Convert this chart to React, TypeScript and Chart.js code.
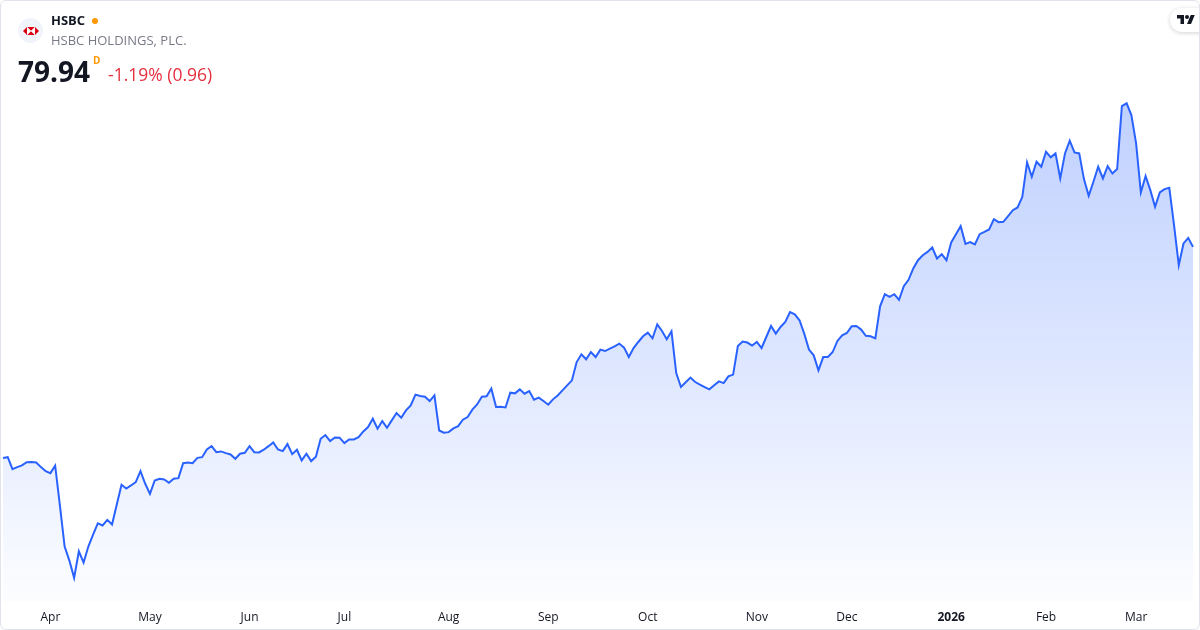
import React, { useEffect, useRef } from 'react';
import { Chart, registerables } from 'chart.js';

Chart.register(...registerables);

// Daily closes, HSBC ADR (18 Mar 2025 – 18 Mar 2026)
const prices = [
  57.47, 57.57, 56.29, 56.51, 56.69, 57.04, 57.05, 57.01, 56.51, 56.08,
  55.87, 56.66, 52.43, 48.06, 46.57, 44.73, 47.56, 46.36, 48.06, 49.34,
  50.54, 50.30, 50.90, 50.40, 52.53, 54.63, 54.24, 54.56, 54.91, 56.08,
  54.74, 53.67, 55.09, 55.27, 55.20, 54.85, 55.27, 55.34, 56.93, 57.01,
  56.93, 57.50, 57.57, 58.39, 58.74, 58.10, 58.18, 58.00, 57.86, 57.40,
  57.93, 58.04, 58.74, 58.10, 58.07, 58.36, 58.74, 59.14, 58.39, 58.21,
  58.96, 57.89, 58.36, 57.22, 57.93, 57.15, 57.61, 59.53, 59.92, 59.28,
  59.67, 59.64, 59.06, 59.46, 59.46, 59.70, 60.31, 60.77, 61.66, 60.60,
  61.41, 60.70, 61.48, 62.26, 61.77, 62.54, 63.08, 64.22, 64.07, 64.00,
  63.54, 64.14, 60.41, 60.17, 60.23, 60.63, 60.87, 61.55, 61.83, 62.62,
  63.18, 64.00, 64.04, 64.86, 62.90, 62.94, 62.86, 64.43, 64.36, 64.78,
  64.32, 64.60, 63.68, 63.90, 63.54, 63.15, 63.72, 64.14, 64.67, 65.21,
  65.74, 67.69, 68.51, 67.98, 68.75, 68.22, 69.01, 68.86, 69.12, 69.36,
  69.65, 69.22, 68.22, 69.18, 69.82, 70.43, 70.82, 70.21, 71.70, 70.99,
  70.11, 70.96, 66.52, 65.03, 65.53, 66.03, 65.56, 65.28, 65.03, 64.78,
  65.21, 65.63, 65.45, 66.17, 66.35, 69.39, 69.86, 69.76, 69.44, 69.82,
  69.18, 70.35, 71.52, 70.71, 71.42, 71.95, 73.01, 72.77, 72.13, 70.71,
  69.01, 68.40, 66.80, 68.22, 68.22, 68.75, 69.93, 70.53, 70.78, 71.49,
  71.52, 71.14, 70.48, 70.43, 70.21, 73.62, 74.90, 74.61, 74.90, 74.31,
  75.75, 76.44, 77.64, 78.52, 79.05, 79.40, 79.87, 78.70, 79.16, 78.52,
  80.41, 81.29, 82.14, 80.26, 80.44, 80.19, 81.29, 81.53, 81.79, 82.89,
  82.57, 82.60, 83.21, 83.84, 84.13, 85.26, 88.93, 87.39, 88.99, 88.46,
  90.05, 89.46, 89.88, 87.22, 89.88, 91.23, 89.99, 89.88, 87.15, 85.37,
  86.86, 88.46, 87.22, 88.53, 87.75, 88.21, 94.92, 95.21, 93.96, 90.95,
  85.73, 87.47, 85.97, 84.20, 85.73, 86.08, 86.22, 82.25, 77.99, 80.30,
  80.89, 79.94,
];

// Trading-day categories (one per close)
const sessions = prices.map((_, i) => `d${i}`);

// Month tick labels and the session index on which each month starts
const monthLabels = ['Apr', 'May', 'Jun', 'Jul', 'Aug', 'Sep', 'Oct', 'Nov', 'Dec', '2026', 'Feb', 'Mar'];
const monthStarts = [10, 31, 52, 72, 94, 115, 136, 159, 178, 200, 220, 239];

const symbol = 'HSBC';
const company = 'HSBC HOLDINGS, PLC.';
const lastPrice = '79.94';
const change = '-1.19% (0.96)';

const FONT = '"Open Sans", "Noto Sans", sans-serif';

function HsbcLogo() {
  return (
    <svg width="16" height="8" viewBox="0 0 16 8" style={{ display: 'block' }}>
      <polygon points="0,4 4,0 4,8" fill="#db0011" />
      <polygon points="4,0 12,0 8,4" fill="#db0011" />
      <polygon points="4,8 12,8 8,4" fill="#db0011" />
      <polygon points="12,0 16,4 12,8" fill="#db0011" />
      <polygon points="4,0 8,4 4,8" fill="#ffffff" />
      <polygon points="12,0 8,4 12,8" fill="#ffffff" />
    </svg>
  );
}

function TvLogo() {
  return (
    <svg width="18" height="14" viewBox="0 0 36 28" style={{ display: 'block' }}>
      <path d="M14 22H7V11H0V4h14v18z" fill="#131722" />
      <path d="M28 22h-8l7.5-18h8L28 22z" fill="#131722" />
      <circle cx="20" cy="8" r="4" fill="#131722" />
    </svg>
  );
}

export default function App() {
  const canvasRef = useRef<HTMLCanvasElement>(null);

  useEffect(() => {
    const canvas = canvasRef.current;
    if (!canvas) return;
    const chart = new Chart(canvas, {
      type: 'line',
      data: {
        labels: sessions,
        datasets: [
          {
            data: prices,
            borderColor: '#2962FF',
            borderWidth: 2,
            pointRadius: 0,
            pointHoverRadius: 0,
            tension: 0,
            fill: 'start',
            backgroundColor: (ctx: any) => {
              const area = ctx.chart.chartArea;
              if (!area) return 'rgba(41,98,255,0.15)';
              const g = ctx.chart.ctx.createLinearGradient(0, area.top, 0, area.bottom);
              g.addColorStop(0, 'rgba(41,98,255,0.30)');
              g.addColorStop(0.55, 'rgba(41,98,255,0.15)');
              g.addColorStop(1, 'rgba(41,98,255,0.01)');
              return g;
            },
          },
        ],
      },
      options: {
        responsive: false,
        maintainAspectRatio: false,
        animation: false,
        events: [],
        layout: { padding: { left: 3, right: 7, top: 90, bottom: 6 } },
        plugins: {
          legend: { display: false },
          tooltip: { enabled: false },
        },
        scales: {
          x: {
            type: 'category',
            offset: false,
            grid: { display: false, drawTicks: false },
            border: { display: false },
            afterBuildTicks: (scale: any) => {
              scale.ticks = monthStarts.map((v) => ({ value: v }));
            },
            ticks: {
              autoSkip: false,
              maxRotation: 0,
              minRotation: 0,
              padding: 8,
              color: '#131722',
              font: (c: any) => ({
                family: FONT,
                size: 12,
                weight: c.tick && c.tick.label === '2026' ? 'bold' : 'normal',
              }),
              callback: (v: any) => {
                const k = monthStarts.indexOf(Number(v));
                return k >= 0 ? monthLabels[k] : '';
              },
            },
          },
          y: {
            display: false,
            min: 42.1,
            max: 96.625,
          },
        },
      },
    } as any);
    return () => chart.destroy();
  }, []);

  return (
    <div
      style={{
        position: 'fixed',
        left: 0,
        top: 0,
        width: 1200,
        height: 630,
        background: '#ffffff',
        overflow: 'hidden',
        fontFamily: FONT,
      }}
    >
      <canvas
        ref={canvasRef}
        width={1200}
        height={639}
        style={{ position: 'absolute', left: 0, top: 0, width: 1200, height: 639 }}
      />
      {/* logo */}
      <div
        style={{
          position: 'absolute',
          left: 18,
          top: 18,
          width: 25,
          height: 25,
          borderRadius: 13,
          background: '#f0f3fa',
          display: 'flex',
          alignItems: 'center',
          justifyContent: 'center',
        }}
      >
        <HsbcLogo />
      </div>
      <div
        style={{
          position: 'absolute',
          left: 51,
          top: 14,
          fontSize: 13,
          lineHeight: '13px',
          fontWeight: 700,
          color: '#131722',
          whiteSpace: 'nowrap',
        }}
      >
        {symbol}
      </div>
      <div
        style={{
          position: 'absolute',
          left: 92,
          top: 18,
          width: 6,
          height: 6,
          borderRadius: 3,
          background: '#ff9800',
        }}
      />
      <div
        style={{
          position: 'absolute',
          left: 51,
          top: 34,
          fontSize: 13,
          lineHeight: '13px',
          color: '#787b86',
          whiteSpace: 'nowrap',
        }}
      >
        {company}
      </div>
      <div
        style={{
          position: 'absolute',
          left: 18,
          top: 57,
          fontSize: 28,
          lineHeight: '28px',
          fontWeight: 700,
          color: '#131722',
          whiteSpace: 'nowrap',
        }}
      >
        {lastPrice}
      </div>
      <div
        style={{
          position: 'absolute',
          left: 93,
          top: 55,
          fontSize: 10,
          lineHeight: '10px',
          fontWeight: 700,
          color: '#ff9800',
        }}
      >
        D
      </div>
      <div
        style={{
          position: 'absolute',
          left: 108,
          top: 66,
          fontSize: 17.5,
          lineHeight: '17.5px',
          color: '#e5303f',
          whiteSpace: 'nowrap',
        }}
      >
        {change}
      </div>
      {/* TradingView badge */}
      <div
        style={{
          position: 'absolute',
          left: 1170,
          top: 8,
          width: 44,
          height: 24,
          borderRadius: 12,
          background: '#ffffff',
          boxShadow: '0 1px 4px rgba(0,0,0,0.18)',
        }}
      >
        <div style={{ position: 'absolute', left: 7, top: 5 }}>
          <TvLogo />
        </div>
      </div>
      {/* card border */}
      <div
        style={{
          position: 'absolute',
          left: 0,
          top: 0,
          width: 1200,
          height: 630,
          boxSizing: 'border-box',
          border: '1px solid #e0e3eb',
          borderRadius: 6,
          pointerEvents: 'none',
        }}
      />
    </div>
  );
}
